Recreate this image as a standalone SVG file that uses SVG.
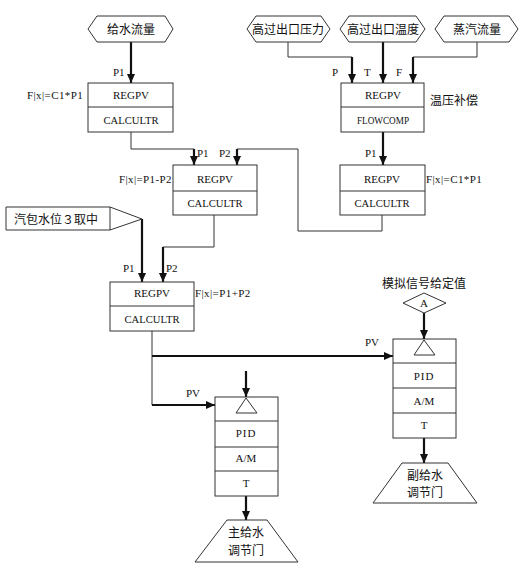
<svg xmlns="http://www.w3.org/2000/svg" width="528" height="570" viewBox="0 0 528 570">
<style>
.bx{fill:#fff;stroke:#333;stroke-width:1}
.t{font-family:"Liberation Serif","Noto Sans CJK SC",serif;font-size:11px;fill:#111}
.c{font-family:"Noto Sans CJK SC",sans-serif;font-size:12px;fill:#111}
.m{text-anchor:middle}
.f{letter-spacing:0.4px}
.thin{fill:none;stroke:#333;stroke-width:1}
.thick{fill:none;stroke:#111;stroke-width:2.2;marker-end:url(#ah)}
</style>
<defs>
<marker id="ah" markerUnits="userSpaceOnUse" markerWidth="9" markerHeight="8" refX="9" refY="4" orient="auto">
<path d="M0,0 L9,4 L0,8 z" fill="#111"/>
</marker>
</defs>
<rect width="528" height="570" fill="#fff"/>

<g id="connectors">
<path class="thick" d="M131,42 V83"/>
<path class="thin" d="M288,42 V57 H352"/>
<path class="thick" d="M352,57 V83"/>
<path class="thick" d="M383,42 V83"/>
<path class="thin" d="M477,42 V57 H413"/>
<path class="thick" d="M413,57 V83"/>
<path class="thick" d="M383,132 V165"/>
<path class="thin" d="M131,132 V149 H194"/>
<path class="thick" d="M194,149 V165"/>
<path class="thin" d="M382,215 V231 H298 V149 H237"/>
<path class="thick" d="M237,149 V165"/>
<path class="thin" d="M214,215 V247 H163"/>
<path class="thick" d="M163,247 V282"/>
<path class="thick" d="M142,219 V282"/>
<path class="thin" d="M152,331 V405"/>
<path class="thick" d="M152,405 H215"/>
<path class="thick" d="M152,356 H393"/>
<path class="thick" d="M246,371 V397"/>
<path class="thick" d="M246,496 V520"/>
<path class="thick" d="M424,313 V339"/>
<path class="thick" d="M424,438 V463"/>
</g>

<g id="in_feedwater">
<polygon class="bx" points="88,29 97,16 165,16 173,29 165,42 97,42"/>
<text class="c m" x="131" y="34">给水流量</text>
</g>
<g id="in_pressure">
<polygon class="bx" points="247,29 256,16 321,16 330,29 321,42 256,42"/>
<text class="c m" x="288" y="34">高过出口压力</text>
</g>
<g id="in_temp">
<polygon class="bx" points="340,29 349,16 416,16 425,29 416,42 349,42"/>
<text class="c m" x="383" y="34">高过出口温度</text>
</g>
<g id="in_steam">
<polygon class="bx" points="435,29 444,16 509,16 518,29 509,42 444,42"/>
<text class="c m" x="477" y="34">蒸汽流量</text>
</g>

<g id="labels_top">
<text class="t" x="113" y="76">P1</text>
<text class="t" x="332" y="76">P</text>
<text class="t" x="364" y="76">T</text>
<text class="t" x="396" y="76">F</text>
</g>

<g id="box1">
<rect class="bx" x="88" y="83" width="85" height="49"/>
<line class="thin" x1="88" y1="107" x2="173" y2="107"/>
<text class="t m" x="131" y="99">REGPV</text>
<text class="t m" x="131" y="124" textLength="55" lengthAdjust="spacingAndGlyphs">CALCULTR</text>
<text class="t f" x="27" y="99">F|x|=C1*P1</text>
</g>

<g id="box2">
<rect class="bx" x="341" y="83" width="83" height="49"/>
<line class="thin" x1="341" y1="107" x2="424" y2="107"/>
<text class="t m" x="383" y="99">REGPV</text>
<text class="t m" x="383" y="124" textLength="52" lengthAdjust="spacingAndGlyphs">FLOWCOMP</text>
<text class="c" x="430" y="105">温压补偿</text>
</g>

<g id="box3">
<rect class="bx" x="340" y="165" width="85" height="50"/>
<line class="thin" x1="340" y1="191" x2="425" y2="191"/>
<text class="t m" x="382" y="183">REGPV</text>
<text class="t m" x="382" y="207" textLength="55" lengthAdjust="spacingAndGlyphs">CALCULTR</text>
<text class="t" x="365" y="157">P1</text>
<text class="t f" x="426" y="183">F|x|=C1*P1</text>
</g>

<g id="box4">
<rect class="bx" x="173" y="165" width="84" height="50"/>
<line class="thin" x1="173" y1="191" x2="257" y2="191"/>
<text class="t m" x="215" y="183">REGPV</text>
<text class="t m" x="215" y="207" textLength="55" lengthAdjust="spacingAndGlyphs">CALCULTR</text>
<text class="t" x="197" y="157">P1</text>
<text class="t" x="219" y="157">P2</text>
<text class="t f" x="172" y="183" text-anchor="end">F|x|=P1-P2</text>
</g>

<g id="in_drum">
<polygon class="bx" points="6,207 110,207 142,219 110,230 6,230"/>
<line class="thin" x1="110" y1="207" x2="110" y2="230"/>
<text class="c" x="14" y="224">汽包水位３取中</text>
</g>

<g id="box5">
<rect class="bx" x="110" y="282" width="84" height="49"/>
<line class="thin" x1="110" y1="306" x2="194" y2="306"/>
<text class="t m" x="152" y="297">REGPV</text>
<text class="t m" x="152" y="323" textLength="55" lengthAdjust="spacingAndGlyphs">CALCULTR</text>
<text class="t" x="123" y="272">P1</text>
<text class="t" x="166" y="272">P2</text>
<text class="t f" x="195" y="297">F|x|=P1+P2</text>
</g>

<g id="pv_labels">
<text class="t" x="186" y="397">PV</text>
<text class="t" x="365" y="346">PV</text>
</g>

<g id="pid_main">
<rect class="bx" x="215" y="397" width="63" height="99"/>
<line class="thin" x1="215" y1="421" x2="278" y2="421"/>
<line class="thin" x1="215" y1="447" x2="278" y2="447"/>
<line class="thin" x1="215" y1="471" x2="278" y2="471"/>
<polygon class="bx" points="246,398 257,413 236,413"/>
<text class="t m" x="246" y="437" letter-spacing="1">PID</text>
<text class="t m" x="246" y="462">A/M</text>
<text class="t m" x="246" y="487">T</text>
</g>

<g id="valve_main">
<polygon class="bx" points="227,520 267,520 298,562 195,562"/>
<text class="c m" x="246" y="537">主给水</text>
<text class="c m" x="246" y="555">调节门</text>
</g>

<g id="setpoint">
<text class="c m" x="424" y="288">模拟信号给定值</text>
<polygon class="bx" points="424,293 446,303 424,313 403,303"/>
<text class="t m" x="424" y="307">A</text>
</g>

<g id="pid_sec">
<rect class="bx" x="393" y="339" width="63" height="99"/>
<line class="thin" x1="393" y1="363" x2="456" y2="363"/>
<line class="thin" x1="393" y1="388" x2="456" y2="388"/>
<line class="thin" x1="393" y1="413" x2="456" y2="413"/>
<polygon class="bx" points="424,340 435,355 414,355"/>
<text class="t m" x="424" y="380" letter-spacing="1">PID</text>
<text class="t m" x="424" y="405">A/M</text>
<text class="t m" x="424" y="429">T</text>
</g>

<g id="valve_sec">
<polygon class="bx" points="402,463 448,463 477,503 373,503"/>
<text class="c m" x="425" y="480">副给水</text>
<text class="c m" x="425" y="497">调节门</text>
</g>
</svg>
